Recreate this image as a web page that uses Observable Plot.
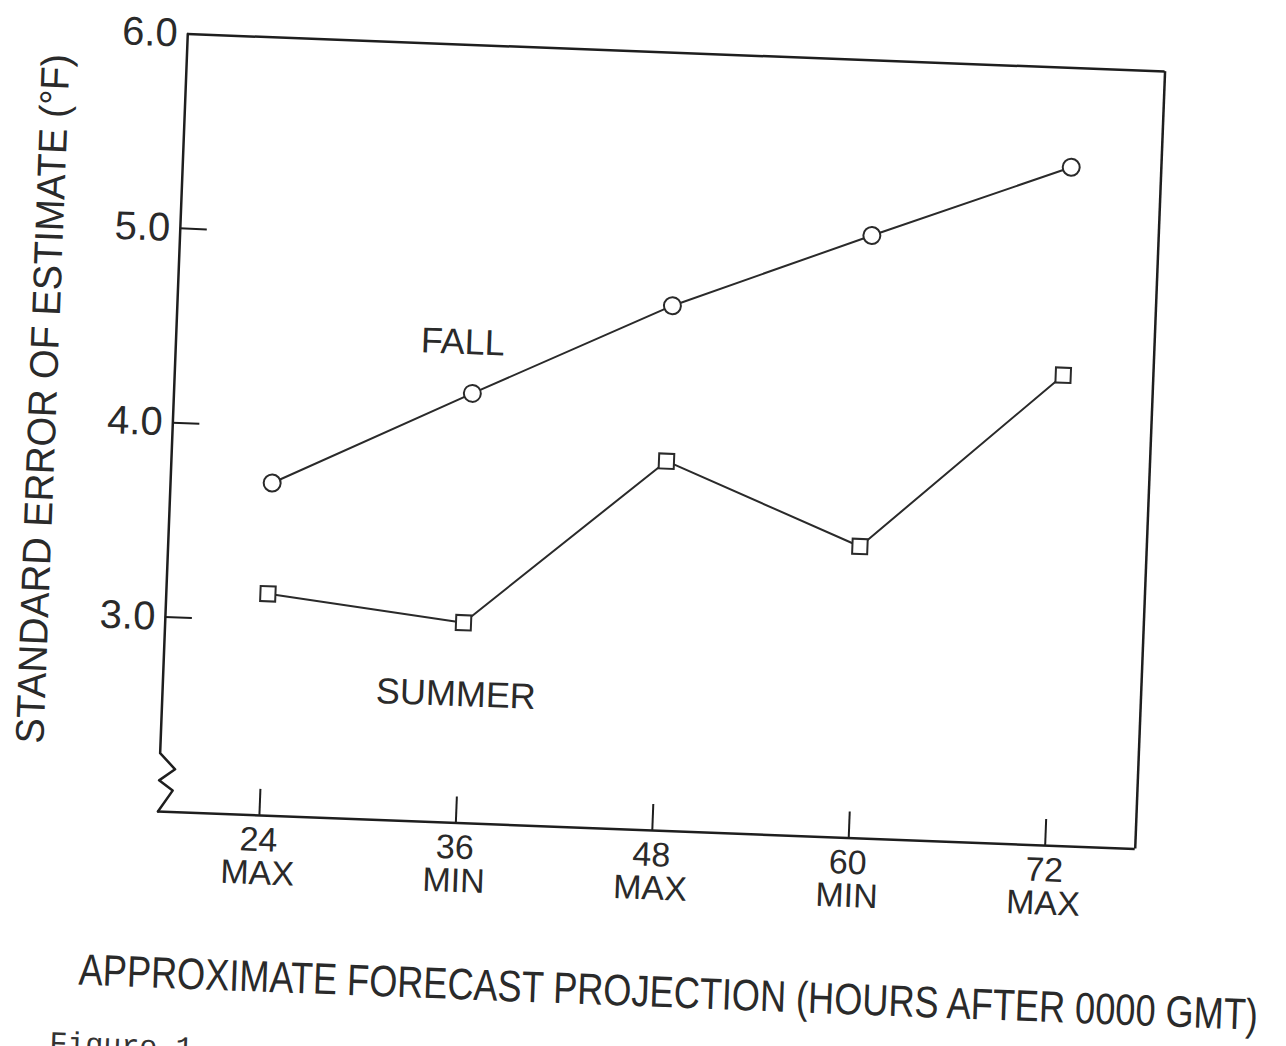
<!DOCTYPE html>
<html><head><meta charset="utf-8">
<script src="https://cdn.jsdelivr.net/npm/d3@7"></script>
<script src="https://cdn.jsdelivr.net/npm/@observablehq/plot@0.6"></script>
<style>
html,body{margin:0;padding:0;background:#fff;overflow:hidden;width:1286px;height:1046px;}
#fig{position:absolute;left:0;top:0;width:1286px;height:1046px;transform:rotate(2.2deg);transform-origin:661px 441px;}
#caption{position:absolute;left:73px;top:1050px;font-family:"Liberation Mono",monospace;font-size:30px;color:#333;white-space:nowrap;}
</style></head><body><div id="fig"></div>
<script>
const hours = [24, 36, 48, 60, 72];
const kinds = ["MAX", "MIN", "MAX", "MIN", "MAX"];
const fall = [3.71, 4.21, 4.70, 5.10, 5.49];
const summer = [3.14, 3.03, 3.90, 3.50, 4.42];
const yTicks = [3, 4, 5, 6];
const yTickMarks = [3, 4, 5];
const seriesLabels = ["FALL", "SUMMER"];
const labelX = [35.3, 35.7];
const labelY = [4.47, 2.66];
const xDomain = [17.8, 77.5];
const yDomain = [2, 6];
const breakX = [17.8, 17.8, 18.75, 17.8, 18.65, 17.8];
const breakY = [6.0, 2.30, 2.22, 2.16, 2.11, 2.0];
const xTitle = "APPROXIMATE FORECAST PROJECTION (HOURS AFTER 0000 GMT)";
const yTitle = "STANDARD ERROR OF ESTIMATE (°F)";
const captionText = "Figure 1.";

const W = 1286, H = 1040, mL = 172, mR = 136, mT = 52, mB = 210;
const fw = W - mL - mR, fh = H - mT - mB;
const ink = "#1e1e1e";

const fallData = hours.map((h, i) => ({x: h, y: fall[i]}));
const summerData = hours.map((h, i) => ({x: h, y: summer[i]}));
const breakData = breakX.map((x, i) => ({x, y: breakY[i]}));
const labelData = seriesLabels.map((t, i) => ({t, x: labelX[i], y: labelY[i]}));

const plot = Plot.plot({
  width: W, height: H,
  marginLeft: mL, marginRight: mR, marginTop: mT, marginBottom: mB,
  x: {domain: xDomain},
  y: {domain: yDomain},
  style: {fontFamily: "'Liberation Sans', Arial, sans-serif", color: "#2a2a2a", background: "white", overflow: "visible"},
  marks: [
    Plot.ruleY([yDomain[1]], {stroke: ink, strokeWidth: 2.5}),
    Plot.ruleY([yDomain[0]], {stroke: ink, strokeWidth: 2.5}),
    Plot.ruleX([xDomain[1]], {stroke: ink, strokeWidth: 2.5}),
    Plot.line(breakData, {x: "x", y: "y", stroke: ink, strokeWidth: 2.5, curve: "linear"}),
    Plot.tickY(yTickMarks, {y: d => d, stroke: ink, strokeWidth: 2, insetRight: fw - 27}),
    Plot.tickX(hours, {x: d => d, stroke: ink, strokeWidth: 2, insetTop: fh - 26}),
    Plot.axisY(yTicks, {tickSize: 0, tickPadding: 10, tickFormat: d => d.toFixed(1), fontSize: 40, label: null}),
    Plot.axisX(hours, {tickSize: 0, tickPadding: 12, tickFormat: d => d + "\n" + kinds[hours.indexOf(d)], fontSize: 34, lineHeight: 0.98, label: null}),
    Plot.line(fallData, {x: "x", y: "y", stroke: "#2a2a2a", strokeWidth: 2}),
    Plot.line(summerData, {x: "x", y: "y", stroke: "#2a2a2a", strokeWidth: 2}),
    Plot.dot(fallData, {x: "x", y: "y", r: 8.5, symbol: "circle", fill: "white", stroke: "#2a2a2a", strokeWidth: 2}),
    Plot.dot(summerData, {x: "x", y: "y", r: 8.5, symbol: "square", fill: "white", stroke: "#2a2a2a", strokeWidth: 2}),
    Plot.text(labelData, {x: "x", y: "y", text: "t", fontSize: 36, fill: "#2a2a2a"}),
    Plot.text([xTitle], {text: d => d, frameAnchor: "bottom", textAnchor: "middle", dx: 28, dy: 162, lineAnchor: "middle", fontSize: 44, fill: "#2a2a2a"}),
    Plot.text([yTitle], {text: d => d, frameAnchor: "left", textAnchor: "middle", dx: -130, dy: -19, rotate: -90, lineAnchor: "middle", fontSize: 40, fill: "#2a2a2a"})
  ]
});

for (const t of plot.querySelectorAll("text")) {
  if (t.textContent === xTitle) { t.setAttribute("textLength", 1180); t.setAttribute("lengthAdjust", "spacingAndGlyphs"); }
  if (t.textContent === yTitle) { t.setAttribute("textLength", 690); t.setAttribute("lengthAdjust", "spacingAndGlyphs"); }
}

const fig = document.getElementById("fig");
fig.appendChild(plot);
const cap = document.createElement("div");
cap.id = "caption";
cap.textContent = captionText;
fig.appendChild(cap);
</script>
</body></html>
